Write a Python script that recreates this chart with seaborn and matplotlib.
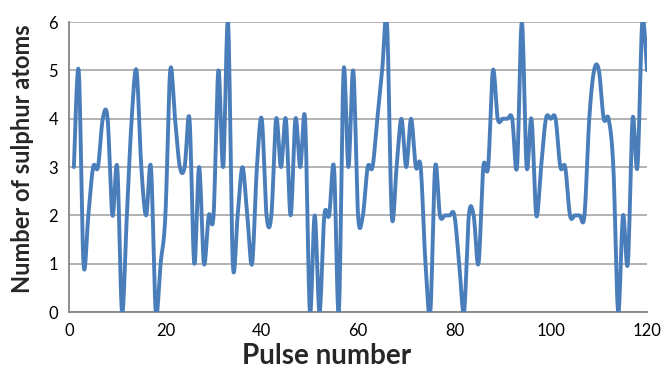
import numpy as np
import pandas as pd
import matplotlib
matplotlib.use("Agg")
import matplotlib.pyplot as plt
import seaborn as sns

pulse = list(range(1, 121))
atoms = [3, 5, 1, 2, 3, 3, 4, 4, 2, 3,
         0, 2, 4, 5, 3, 2, 3, 0, 1, 2,
         5, 4, 3, 3, 4, 1, 3, 1, 2, 2,
         5, 3, 6, 1, 2, 3, 2, 1, 3, 4,
         2, 2, 4, 3, 4, 2, 4, 3, 4, 0,
         2, 0, 2, 2, 3, 0, 5, 3, 5, 2,
         2, 3, 3, 4, 5, 6, 2, 3, 4, 3,
         4, 3, 3, 1, 0, 3, 2, 2, 2, 2,
         1, 0, 2, 2, 1, 3, 3, 5, 4, 4,
         4, 4, 3, 6, 3, 4, 2, 3, 4, 4,
         4, 3, 3, 2, 2, 2, 2, 4, 5, 5,
         4, 4, 3, 0, 2, 1, 4, 3, 6, 5]
x_ticks = [0, 20, 40, 60, 80, 100, 120]
y_ticks = [0, 1, 2, 3, 4, 5, 6]

# Excel-style smoothed line (Catmull-Rom through every point)
def smooth(x, y, n=12):
    x = np.asarray(x, float)
    y = np.asarray(y, float)
    px = np.concatenate([[x[0]], x, [x[-1]]])
    py = np.concatenate([[y[0]], y, [y[-1]]])
    xs, ys = [], []
    t = np.linspace(0, 1, n, endpoint=False)
    for i in range(1, len(px) - 2):
        for p, out in ((px, xs), (py, ys)):
            p0, p1, p2, p3 = p[i - 1], p[i], p[i + 1], p[i + 2]
            c1 = p1 + (p2 - p0) / 6
            c2 = p2 - (p3 - p1) / 6
            out.extend((1 - t) ** 3 * p1 + 3 * (1 - t) ** 2 * t * c1
                       + 3 * (1 - t) * t ** 2 * c2 + t ** 3 * p2)
    xs.append(x[-1])
    ys.append(y[-1])
    return np.array(xs), np.array(ys)

sx, sy = smooth(pulse, atoms)
df = pd.DataFrame({"pulse": sx, "atoms": sy})

sns.set_style("white")
plt.rcParams["font.family"] = ["Lato", "DejaVu Sans"]

fig = plt.figure(figsize=(6.64, 3.68), dpi=100)
ax = fig.add_axes([0.104, 0.152, 0.8705, 0.788])

sns.lineplot(data=df, x="pulse", y="atoms", sort=False, color="#4a7ebb",
             linewidth=2.8, ax=ax, zorder=3)

ax.set_xlim(0, 120)
ax.set_ylim(0, 6)
ax.set_xticks(x_ticks)
ax.set_yticks(y_ticks)
ax.yaxis.grid(True, color="#a6a6a6", linewidth=1.2)
ax.set_axisbelow(True)
for s in ["top", "right"]:
    ax.spines[s].set_visible(False)
for s in ["left", "bottom"]:
    ax.spines[s].set_color("#868686")
    ax.spines[s].set_linewidth(1.3)
ax.tick_params(axis="both", direction="out", length=5, width=1,
               color="#868686", labelsize=12, labelcolor="black", pad=3)
ax.set_xlabel("Pulse number", fontsize=20, fontweight="bold")
ax.set_ylabel("Number of sulphur atoms", fontsize=17, fontweight="bold")
ax.xaxis.set_label_coords(0.445, -0.107)
ax.yaxis.set_label_coords(-0.06, 0.53)

fig.savefig("out.png", dpi=100)
